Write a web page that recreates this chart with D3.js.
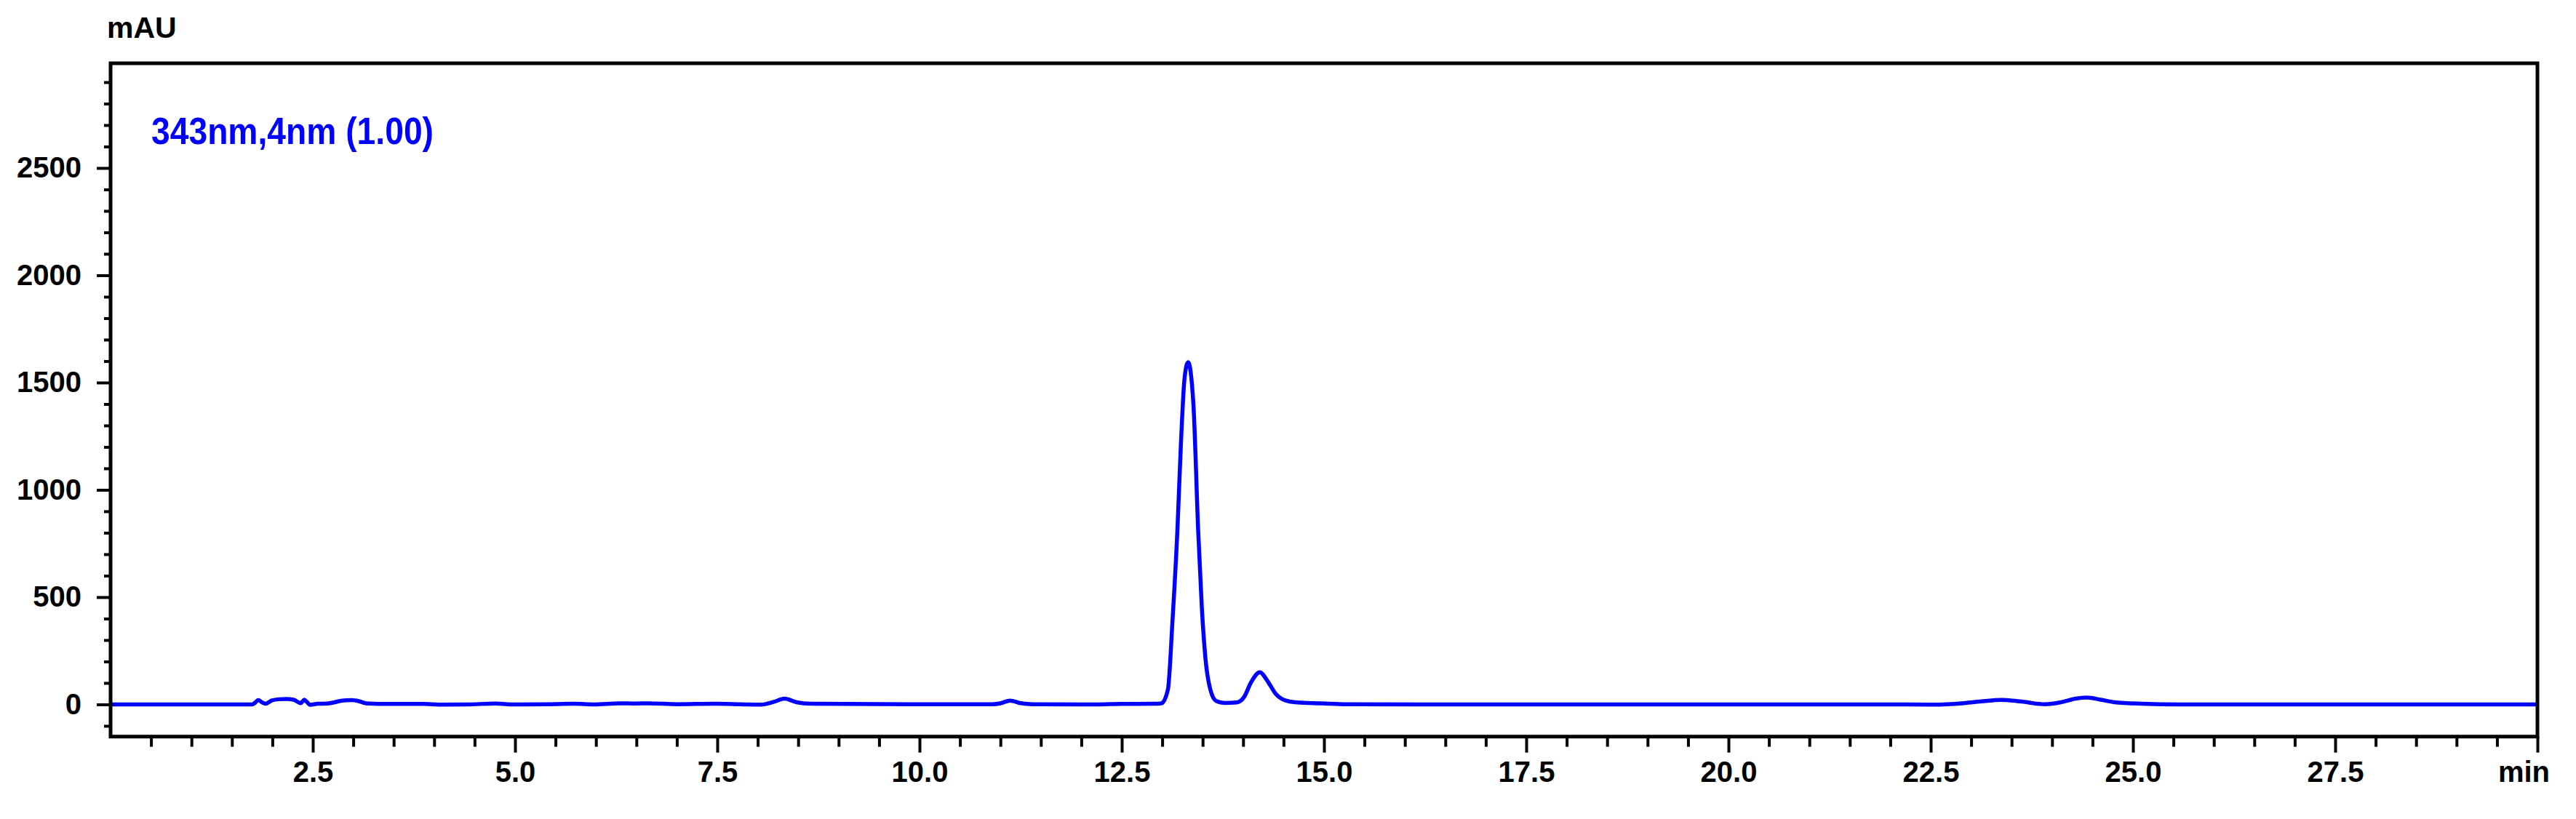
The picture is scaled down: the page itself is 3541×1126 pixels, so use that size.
<!DOCTYPE html>
<html>
<head>
<meta charset="utf-8">
<script src="https://cdn.jsdelivr.net/npm/d3@7"></script>
<style>
  html, body { margin: 0; padding: 0; background: #fff; }
  svg { display: block; }
  text { font-family: "Liberation Sans", Arial, sans-serif; }
</style>
</head>
<body>
<script>
// ---- data ----
const retentionTime = [0, 0.5, 1.0, 1.5, 1.75, 1.78, 1.826, 1.87, 1.915, 1.99, 2.08, 2.17, 2.26, 2.35, 2.395, 2.425, 2.47, 2.56, 2.68, 2.77, 2.86, 2.98, 3.07, 3.16, 3.43, 3.88, 4.06, 4.42, 4.76, 4.94, 5.4, 5.72, 5.98, 6.29, 6.49, 6.65, 7.01, 7.47, 7.83, 8.04, 8.20, 8.33, 8.48, 8.66, 9.07, 10.0, 10.9, 11.0, 11.12, 11.25, 11.4, 12.0, 12.5, 12.9, 12.99, 13.07, 13.127, 13.187, 13.232, 13.276, 13.32, 13.385, 13.445, 13.49, 13.535, 13.595, 13.67, 13.77, 13.92, 14.01, 14.10, 14.205, 14.31, 14.40, 14.52, 14.67, 14.97, 15.27, 16.2, 18, 20, 22.01, 22.53, 22.91, 23.15, 23.37, 23.60, 23.91, 24.11, 24.29, 24.43, 24.60, 24.77, 25.11, 25.56, 27, 30];
const absorbance = [0, 0, 0, 0, 0, 6, 20, 10, 3, 18, 24, 25, 22, 6, 22, 12, -2, 3, 4, 10, 18, 20, 15, 5, 2, 2, -1, 0, 4, 0, 1, 3, 0, 5, 4, 5, 1, 3, 0, -1, 12, 27, 10, 3, 2, 1, 1, 5, 18, 6, 1, 0, 2, 3, 5, 69, 390, 806, 1222, 1520, 1595, 1402, 806, 449, 212, 69, 15, 7, 9, 33, 104, 150, 104, 51, 19, 9, 5, 1, 0, 0, 0, 0, -1, 6, 15, 21, 14, 1, 10, 27, 32, 22, 10, 3, 0, 0, 0];

const xMajorTicks = [2.5, 5.0, 7.5, 10.0, 12.5, 15.0, 17.5, 20.0, 22.5, 25.0, 27.5, 30.0];
const xMinorTicks = d3.range(0.5, 30, 0.5).filter(v => Math.abs(v / 2.5 - Math.round(v / 2.5)) > 1e-6);
const yMajorTicks = [0, 500, 1000, 1500, 2000, 2500];
const yMinorTicks = d3.range(-100, 3000, 100).filter(v => v % 500 !== 0);
const xUnitLabel = "min";
const yUnitLabel = "mAU";
const traceLabel = "343nm,4nm (1.00)";

// ---- layout ----
const W = 3541, H = 1126;
const L = 152, R = 3488, T = 87, B = 1012.7;

const svg = d3.select("body").append("svg").attr("width", W).attr("height", H);

const x = d3.scaleLinear().domain([0, 30]).range([L, R]);
const y = d3.scaleLinear().domain([-150, 2988]).range([B, T]);

// minor ticks x
svg.append("g").attr("transform", `translate(0,${B})`)
  .call(d3.axisBottom(x).tickValues(xMinorTicks).tickSize(14).tickFormat(""))
  .call(g => g.select(".domain").remove())
  .call(g => g.selectAll("line").attr("stroke", "#000").attr("stroke-width", 4));

// major ticks x
const xAxisG = svg.append("g").attr("transform", `translate(0,${B})`)
  .call(d3.axisBottom(x).tickValues(xMajorTicks).tickSize(22).tickPadding(12)
    .tickFormat(d => d === 30 ? xUnitLabel : d3.format(".1f")(d)))
  .call(g => g.select(".domain").remove())
  .call(g => g.selectAll("line").attr("stroke", "#000").attr("stroke-width", 4));
xAxisG.selectAll("text")
  .attr("fill", "#000").attr("font-size", 40).attr("font-weight", "bold")
  .style("font-family", '"Liberation Sans", Arial, sans-serif');
xAxisG.selectAll(".tick").filter(d => d === 30).select("text").attr("x", -19);

// minor ticks y
svg.append("g").attr("transform", `translate(${L},0)`)
  .call(d3.axisLeft(y).tickValues(yMinorTicks).tickSize(9).tickFormat(""))
  .call(g => g.select(".domain").remove())
  .call(g => g.selectAll("line").attr("stroke", "#000").attr("stroke-width", 4));

// major ticks y
const yAxisG = svg.append("g").attr("transform", `translate(${L},0)`)
  .call(d3.axisLeft(y).tickValues(yMajorTicks).tickSize(19).tickPadding(21).tickFormat(d3.format("d")))
  .call(g => g.select(".domain").remove())
  .call(g => g.selectAll("line").attr("stroke", "#000").attr("stroke-width", 4));
yAxisG.selectAll("text")
  .attr("fill", "#000").attr("font-size", 40).attr("font-weight", "bold")
  .style("font-family", '"Liberation Sans", Arial, sans-serif');

// trace
const pts = retentionTime.map((t, i) => [t, absorbance[i]]);
svg.append("path")
  .datum(pts)
  .attr("fill", "none")
  .attr("stroke", "#0000ff")
  .attr("stroke-width", 5.5)
  .attr("stroke-linejoin", "round")
  .attr("d", d3.line().x(d => x(d[0])).y(d => y(d[1])).curve(d3.curveMonotoneX));

// frame
svg.append("rect")
  .attr("x", L).attr("y", T).attr("width", R - L).attr("height", B - T)
  .attr("fill", "none").attr("stroke", "#000").attr("stroke-width", 5);

// unit label
svg.append("text")
  .attr("x", 147).attr("y", 52)
  .attr("font-size", 41).attr("font-weight", "bold").attr("fill", "#000")
  .text(yUnitLabel);

// trace label
svg.append("text")
  .attr("x", 208).attr("y", 198)
  .attr("font-size", 52).attr("font-weight", "bold").attr("fill", "#0000ff")
  .attr("textLength", 388).attr("lengthAdjust", "spacingAndGlyphs")
  .text(traceLabel);
</script>
</body>
</html>
